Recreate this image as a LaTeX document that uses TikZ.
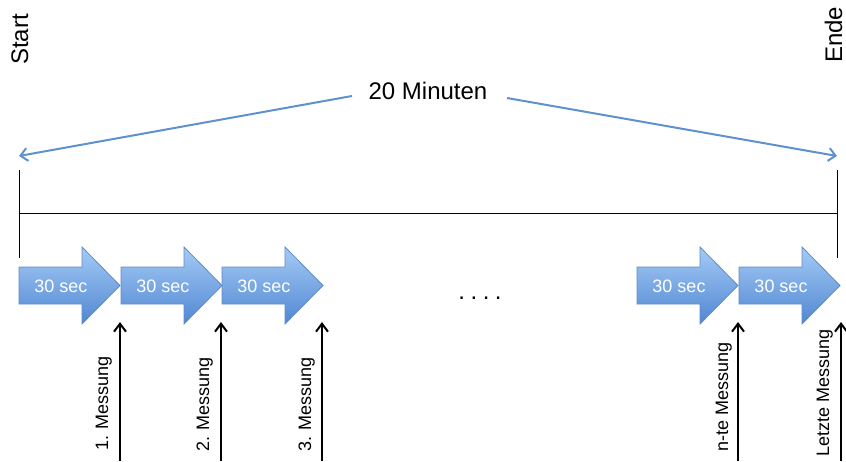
\documentclass[tikz,border=0pt]{standalone}
\usepackage{fontspec}
\setmainfont{Liberation Sans}
\usetikzlibrary{arrows.meta}
\definecolor{lineblue}{RGB}{95,145,205}
\definecolor{arrtop}{RGB}{165,203,246}
\definecolor{arrbot}{RGB}{80,135,210}
\definecolor{arredge}{RGB}{95,140,200}
\tikzset{
  x=1pt, y=-1pt,
  bigtxt/.style={font=\fontsize{24}{28}\selectfont, inner sep=0pt},
  midtxt/.style={font=\fontsize{18}{21}\selectfont, inner sep=0pt},
  spanarrow/.style={draw=lineblue, line width=2pt, -{Straight Barb[length=7pt,width=13pt]}},
  measarrow/.style={draw=black, line width=2pt, -{Straight Barb[length=8pt,width=12pt]}},
  timeline/.style={draw=black, line width=1pt},
  blockarr/.style={draw=arredge, line width=0.8pt, top color=arrtop, bottom color=arrbot, line join=miter},
  steplabel/.style={midtxt, text=white},
  meslabel/.style={midtxt, rotate=90, anchor=base west},
}
\newcommand{\blockarrowat}[2]{%
  \path[blockarr] (#1,267) -- (#1+63,267) -- (#1+63,247) -- (#1+101,285.5) -- (#1+63,324) -- (#1+63,304) -- (#1,304) -- cycle;
  \node[steplabel] (#2) at (#1+42,286) {30 sec};
}
\begin{document}
\begin{tikzpicture}
\useasboundingbox (0,0) rectangle (846,461);
% Start / Ende
\node[bigtxt, rotate=90, anchor=base west] (start) at (28,65) {Start};
\node[bigtxt, rotate=90, anchor=base west] (ende) at (842,63) {Ende};
% span label
\node[bigtxt] (span) at (428,91) {20 Minuten};
\coordinate (lt) at (19,156);
\coordinate (rt) at (837,156);
\coordinate (ls) at (352,96);
\coordinate (rs) at (507,98);
\draw[spanarrow] (ls) -- (lt);
\draw[spanarrow] (rs) -- (rt);
% timeline
\coordinate (t1a) at (19,170);
\coordinate (t1b) at (19,258);
\coordinate (t2a) at (837,170);
\coordinate (t2b) at (837,258);
\coordinate (h1) at (19,213);
\coordinate (h2) at (837,213);
\draw[timeline] (t1a) -- (t1b);
\draw[timeline] (t2a) -- (t2b);
\draw[timeline] (h1) -- (h2);
% block arrows
\blockarrowat{19}{b1}
\blockarrowat{121}{b2}
\blockarrowat{222}{b3}
\blockarrowat{637}{b4}
\blockarrowat{739}{b5}
\node[bigtxt] (dots) at (480,298) {.\hspace{5.5pt}.\hspace{5.5pt}.\hspace{5.5pt}.};
% measurement arrows
\coordinate (m1b) at (120,461); \coordinate (m1t) at (120,322);
\coordinate (m2b) at (221,461); \coordinate (m2t) at (221,322);
\coordinate (m3b) at (322,461); \coordinate (m3t) at (322,322);
\coordinate (m4b) at (738,461); \coordinate (m4t) at (738,322);
\coordinate (m5b) at (841,461); \coordinate (m5t) at (841,322);
\draw[measarrow] (m1b) -- (m1t);
\draw[measarrow] (m2b) -- (m2t);
\draw[measarrow] (m3b) -- (m3t);
\draw[measarrow] (m4b) -- (m4t);
\draw[measarrow] (m5b) -- (m5t);
\node[meslabel] (l1) at (108,451) {1. Messung};
\node[meslabel] (l2) at (209,452) {2. Messung};
\node[meslabel] (l3) at (311,452) {3. Messung};
\node[meslabel] (l4) at (728,452) {n-te Messung};
\node[meslabel] (l5) at (829,457) {Letzte Messung};
\end{tikzpicture}
\end{document}
